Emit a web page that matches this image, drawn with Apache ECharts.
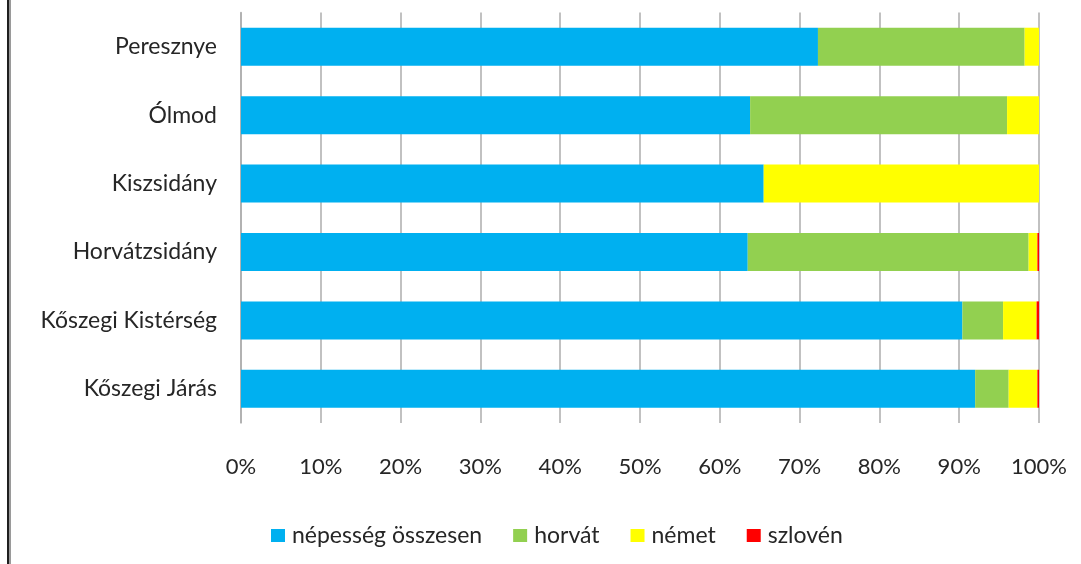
<!DOCTYPE html>
<html>
<head>
<meta charset="utf-8">
<script src="https://cdn.jsdelivr.net/npm/echarts@6/dist/echarts.min.js"></script>
<style>
html,body{margin:0;padding:0;background:#fff;}
#chart{width:1081px;height:564px;}
</style>
</head>
<body>
<div id="chart"></div>
<script>
const categories = ['Peresznye', 'Ólmod', 'Kiszsidány', 'Horvátzsidány', 'Kőszegi Kistérség', 'Kőszegi Járás'];
const seriesNames = ['népesség összesen', 'horvát', 'német', 'szlovén'];
const nepesseg = [72.3, 63.8, 65.5, 63.5, 90.4, 92.0];
const horvat   = [25.9, 32.2, 0.0, 35.2, 5.1, 4.2];
const nemet    = [1.8, 4.0, 34.5, 1.1, 4.2, 3.6];
const szloven  = [0.0, 0.0, 0.0, 0.2, 0.3, 0.2];
const xTicks = [0, 10, 20, 30, 40, 50, 60, 70, 80, 90, 100];

const colors = ['#00B0F0', '#92D050', '#FFFF00', '#FF0000'];
const values = [nepesseg, horvat, nemet, szloven];
const FONT = 'Lato';

const chart = echarts.init(document.getElementById('chart'));
chart.setOption({
  animation: false,
  backgroundColor: '#ffffff',
  textStyle: { fontFamily: FONT, color: '#262626' },
  grid: { left: 241, right: 42, top: 12.5, bottom: 141, containLabel: false },
  xAxis: {
    type: 'value',
    min: 0, max: 100, interval: 10,
    axisLine: { show: false },
    axisTick: { show: false },
    splitLine: { show: true, lineStyle: { color: '#adadad', width: 1.5 } },
    axisLabel: {
      formatter: function (v) { return xTicks.indexOf(v) >= 0 ? v + '%' : ''; },
      fontFamily: FONT, fontSize: 22, color: '#262626', margin: 33
    }
  },
  yAxis: {
    type: 'category',
    inverse: true,
    data: categories,
    axisLine: { show: true, lineStyle: { color: '#adadad', width: 1.5 } },
    axisTick: { show: false },
    axisLabel: { fontFamily: FONT, fontSize: 23, color: '#262626', margin: 24 }
  },
  legend: {
    data: seriesNames,
    left: 266, top: 519,
    itemWidth: 14, itemHeight: 13, itemGap: 31,
    icon: 'rect',
    textStyle: { fontFamily: FONT, fontSize: 23, color: '#262626', padding: [0, 0, 0, 2] }
  },
  series: seriesNames.map(function (name, i) {
    return {
      name: name,
      type: 'bar',
      stack: 'total',
      barWidth: 38,
      itemStyle: { color: colors[i] },
      data: values[i]
    };
  }),
  graphic: [
    { type: 'rect', left: 7, top: 0, shape: { width: 2, height: 564 }, style: { fill: '#1e1e1e' }, z: 100 },
    { type: 'rect', left: 9, top: 0, shape: { width: 2, height: 564 }, style: { fill: '#9a9a9a' }, z: 100 }
  ]
});
</script>
</body>
</html>
